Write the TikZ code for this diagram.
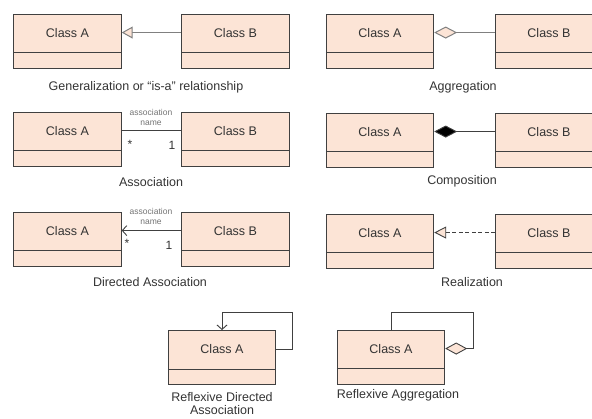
\documentclass[tikz,border=0pt]{standalone}
\usepackage{fontspec}
\setmainfont{Liberation Sans}
\usetikzlibrary{arrows.meta}
\definecolor{peach}{HTML}{FCE4D6}
\definecolor{boxline}{HTML}{404040}
\definecolor{txt}{HTML}{333333}
\definecolor{greyline}{HTML}{808080}
\newcommand\umlclass[3]{%
  \node[cls] (#1) at (#2) {};
  \node[clstext] (#1-t) at ([yshift=-19pt]#1.north) {#3};
  \draw[divline] ([yshift=16pt]#1.south west) -- ([yshift=16pt]#1.south east);
}
\begin{document}
\begin{tikzpicture}[x=1pt,y=-1pt,
  cls/.style={draw=boxline, fill=peach, minimum width=107.5pt, minimum height=54pt, inner sep=0pt, line width=0.9pt},
  clstext/.style={text=txt, font=\fontsize{12.5}{14}\selectfont, inner sep=0pt},
  divline/.style={draw=boxline, line width=0.9pt},
  lbl/.style={text=txt, font=\fontsize{12.5}{14}\selectfont, inner sep=0pt},
  small/.style={text=gray!90!black, font=\fontsize{8.5}{9}\selectfont, inner sep=0pt},
  mult/.style={text=txt, font=\fontsize{12}{13}\selectfont, inner sep=0pt},
  conn/.style={draw=boxline, line width=0.9pt},
  gconn/.style={draw=greyline, line width=1pt}
]
\useasboundingbox (0,0) rectangle (592,418);
\begin{scope}
\clip (0,0) rectangle (592,418);
% Row 1
\umlclass{a1}{67.5,41}{Class A}
\umlclass{b1}{235.5,41}{Class B}
\umlclass{a2}{380,41}{Class A}
\umlclass{b2}{549,41}{Class B}
% Row 2
\umlclass{a3}{67.5,139}{Class A}
\umlclass{b3}{235.5,139}{Class B}
\umlclass{a4}{380,140}{Class A}
\umlclass{b4}{549,140}{Class B}
% Row 3
\umlclass{a5}{67.5,239}{Class A}
\umlclass{b5}{235.5,239}{Class B}
\umlclass{a6}{380,241}{Class A}
\umlclass{b6}{549,241}{Class B}
% Row 4
\umlclass{c1}{222,357.5}{Class A}
\umlclass{c2}{391,357}{Class A}
\end{scope}

% Generalization
\draw[gconn, {Triangle[length=11pt,width=12pt,fill=peach]}-] (a1.east |- a1-t) -- (b1.west |- a1-t);
% Aggregation
\draw[gconn, {Diamond[length=23pt,width=12pt,fill=peach]}-] (a2.east |- a2-t) -- (b2.west |- a2-t);
% Association
\draw[conn] (a3.east |- a3-t) -- (b3.west |- a3-t);
% Composition
\draw[conn, {Diamond[length=23pt,width=12pt,fill=black]}-] (a4.east |- a4-t) -- (b4.west |- a4-t);
% Directed association
\draw[conn, {Straight Barb[length=4.5pt,width=10pt]}-] (a5.east |- a5-t) -- (b5.west |- a5-t);
% Realization
\draw[conn, dash pattern=on 4pt off 2.5pt, {Triangle[length=12pt,width=12pt,fill=peach]}-] (a6.east |- a6-t) -- (b6.west |- a6-t);
% Reflexive directed association
\draw[conn, -{Straight Barb[length=4.5pt,width=10pt]}] (c1.east |- c1-t) -- ++(16,0) |- ([yshift=18pt]c1.north) -- (c1.north);
% Reflexive aggregation
\draw[conn, {Diamond[length=22pt,width=12pt,fill=peach]}-] (c2.east |- c2-t) -- ++(28,0) |- ([yshift=17pt]c2.north) -- (c2.north);

% Labels
\node[lbl] (l1) at (146,87) {Generalization or “is-a” relationship};
\node[lbl] (l2) at (463,87) {Aggregation};
\node[small] (n3a) at (151,112) {association};
\node[small] (n3b) at (151,123) {name};
\node[mult] (m3a) at (130,144) {*};
\node[mult] (m3b) at (172,145) {1};
\node[lbl] (l3) at (151,182) {Association};
\node[lbl] (l4) at (462,181) {Composition};
\node[small] (n5a) at (151,211) {association};
\node[small] (n5b) at (151,222) {name};
\node[mult] (m5a) at (127,243) {*};
\node[mult] (m5b) at (169,245) {1};
\node[lbl] (l5) at (150,282) {Directed Association};
\node[lbl] (l6) at (472,282) {Realization};
\node[lbl] (l7a) at (222,397) {Reflexive Directed};
\node[lbl] (l7b) at (222,410.5) {Association};
\node[lbl] (l8) at (398,395) {Reflexive Aggregation};
\end{tikzpicture}
\end{document}
